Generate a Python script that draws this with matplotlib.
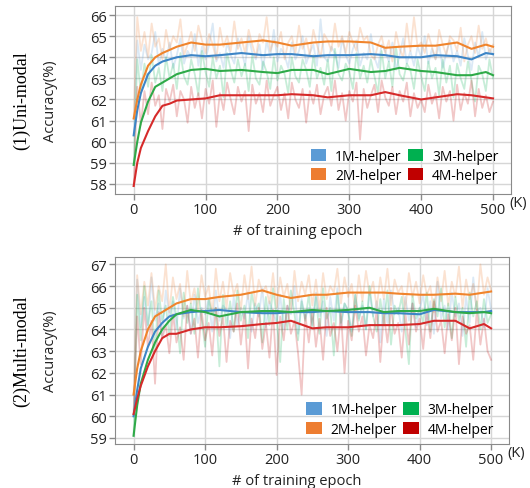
import numpy as np
import matplotlib
matplotlib.use('Agg')
import matplotlib.pyplot as plt
from matplotlib.patches import Patch

plt.rcParams['font.family'] = ['Open Sans', 'DejaVu Sans']

labels = ['1M-helper', '2M-helper', '3M-helper', '4M-helper']
colors = ['#5B9BD5', '#ED7D31', '#00B050', '#C00000']
line_colors = ['#3d85c6', '#f0842c', '#2eaa48', '#d62a2a']

# raw accuracy, every 5K epochs (0..500)
raw_x = np.arange(0, 501, 5)
uni_raw = [
    [60.3, 64.8, 63.4, 64.6, 63.9, 64.2, 65.2, 63.6, 64.4, 63.8,
     64.7, 63.5, 64.1, 64.9, 63.7, 64.3, 64.0, 65.1, 63.6, 64.5,
     63.9, 64.6, 65.6, 63.8, 64.2, 63.5, 64.7, 64.1, 63.7, 64.9,
     64.3, 63.6, 65.0, 64.2, 63.9, 64.6, 63.4, 64.8, 64.0, 65.3,
     63.8, 64.4, 64.1, 63.5, 64.7, 63.9, 64.3, 65.0, 63.7, 64.2,
     64.6, 63.6, 65.8, 64.0, 63.8, 64.5, 64.2, 63.5, 64.9, 64.1,
     63.7, 64.4, 64.8, 63.6, 64.2, 63.9, 65.1, 64.0, 63.5, 64.6,
     64.3, 63.8, 64.7, 63.4, 64.1, 64.9, 63.7, 64.3, 63.6, 64.5,
     64.0, 65.0, 63.7, 64.4, 63.9, 64.6, 63.5, 64.2, 64.8, 63.8,
     64.3, 63.6, 64.9, 64.1, 63.4, 64.7, 64.0, 65.2, 63.9, 64.4,
     64.1],
    [61.1, 65.9, 64.3, 65.2, 64.0, 65.6, 64.5, 64.9, 63.9, 65.3,
     64.4, 65.0, 64.7, 65.8, 64.1, 64.6, 65.2, 64.3, 65.5, 64.8,
     64.2, 65.1, 64.6, 63.9, 65.4, 64.5, 65.0, 64.3, 65.7, 64.4,
     64.9, 64.2, 65.3, 64.6, 64.0, 65.1, 64.7, 65.9, 64.3, 64.8,
     64.5, 65.2, 63.9, 64.7, 65.0, 64.2, 65.5, 64.4, 64.9, 64.1,
     65.3, 64.6, 64.0, 65.1, 64.8, 64.3, 65.6, 64.5, 65.0, 64.2,
     65.2, 64.7, 64.3, 65.4, 64.8, 65.0, 64.1, 63.9, 64.6, 65.0,
     64.2, 64.8, 63.8, 65.2, 64.4, 64.0, 65.6, 64.3, 65.9, 64.5,
     64.7, 64.2, 65.1, 64.5, 63.9, 65.3, 64.6, 64.1, 65.0, 64.8,
     64.3, 65.4, 63.8, 64.6, 65.0, 64.2, 65.5, 64.4, 64.9, 64.2,
     64.6],
    [58.9, 63.9, 62.3, 63.7, 62.6, 64.1, 62.8, 63.5, 62.4, 64.0,
     63.0, 63.7, 62.5, 64.2, 63.1, 62.7, 63.9, 63.2, 62.2, 64.3,
     63.3, 62.6, 64.0, 63.0, 63.6, 62.1, 64.2, 63.4, 62.8, 63.9,
     63.1, 63.7, 62.4, 64.1, 63.0, 62.7, 63.8, 63.3, 62.5, 64.0,
     62.9, 63.6, 63.2, 62.3, 64.0, 63.1, 62.8, 63.9, 63.4, 62.6,
     64.1, 63.0, 63.5, 62.7, 63.9, 62.4, 64.4, 63.2, 62.9, 63.7,
     63.3, 62.5, 64.2, 63.0, 63.6, 62.8, 63.9, 63.1, 62.3, 64.3,
     63.0, 63.8, 62.6, 64.5, 63.2, 62.9, 63.7, 63.4, 62.5, 63.9,
     63.1, 62.4, 63.8, 63.0, 63.5, 62.2, 63.9, 62.8, 63.6, 62.1,
     63.7, 63.0, 62.5, 63.8, 62.9, 61.9, 63.6, 63.2, 62.4, 63.9,
     63.0],
    [57.9, 62.6, 60.8, 62.4, 61.3, 62.8, 61.7, 62.2, 60.6, 62.5,
     61.9, 62.7, 61.2, 62.4, 62.0, 60.9, 62.6, 61.6, 62.3, 61.1,
     62.5, 61.8, 62.9, 60.7, 62.3, 61.5, 62.8, 62.0, 61.3, 62.6,
     61.9, 62.4, 60.5, 62.7, 61.8, 62.3, 61.4, 62.9, 61.7, 62.2,
     62.6, 61.5, 62.3, 61.1, 62.8, 62.0, 61.6, 62.5, 60.9, 62.4,
     61.8, 62.7, 61.3, 62.2, 62.6, 61.7, 62.9, 61.5, 62.3, 61.0,
     62.4, 61.9, 62.8, 60.1, 62.5, 61.6, 62.2, 62.7, 61.4, 62.9,
     62.1, 61.7, 62.6, 61.3, 62.4, 61.9, 62.8, 61.2, 62.3, 61.6,
     62.0, 61.4, 62.7, 61.8, 62.3, 61.1, 62.6, 61.9, 62.4, 61.0,
     62.7, 61.5, 62.3, 61.8, 62.9, 61.2, 62.5, 61.6, 62.2, 61.4,
     61.9],
]
multi_raw = [
    [60.0, 66.3, 64.1, 65.5, 63.9, 66.4, 64.4, 65.2, 63.7, 65.8,
     64.6, 65.3, 64.0, 65.9, 64.5, 65.1, 63.8, 65.6, 64.3, 65.0,
     64.7, 65.4, 63.9, 65.8, 64.4, 65.1, 64.9, 63.6, 65.5, 64.2,
     65.0, 64.5, 65.7, 63.9, 65.2, 64.6, 65.9, 64.1, 65.3, 64.8,
     64.3, 65.6, 64.0, 65.1, 64.7, 66.0, 63.8, 65.4, 64.5, 65.0,
     64.2, 65.7, 64.6, 65.3, 63.7, 65.5, 64.4, 65.9, 64.1, 65.2,
     64.8, 63.9, 65.6, 64.5, 65.1, 64.0, 65.7, 64.6, 65.3, 63.4,
     65.4, 64.3, 65.8, 64.7, 65.0, 63.9, 65.5, 64.4, 65.2, 64.1,
     64.9, 65.6, 64.2, 65.3, 63.8, 66.2, 64.5, 65.1, 64.0, 65.7,
     64.6, 65.2, 63.7, 65.5, 64.3, 66.4, 64.8, 65.0, 64.1, 65.9,
     64.9],
    [61.0, 66.5, 64.7, 66.2, 65.1, 66.6, 64.9, 66.0, 65.3, 67.0,
     64.8, 66.4, 65.4, 66.1, 64.6, 66.7, 65.2, 65.9, 64.9, 66.5,
     65.5, 66.0, 64.7, 66.8, 65.3, 66.2, 65.0, 66.6, 65.6, 66.1,
     64.9, 66.5, 65.4, 66.9, 65.1, 66.3, 65.7, 66.0, 65.2, 66.6,
     65.0, 66.4, 65.5, 66.1, 64.8, 66.7, 65.3, 66.2, 65.6, 66.5,
     65.1, 66.3, 64.9, 66.6, 65.4, 66.0, 65.7, 66.8, 65.2, 66.4,
     65.5, 66.1, 64.8, 66.5, 65.3, 66.7, 65.6, 66.2, 65.0, 66.4,
     65.4, 66.8, 65.1, 66.3, 65.7, 66.0, 64.9, 66.6, 65.5, 66.2,
     65.2, 66.5, 65.6, 66.0, 64.8, 66.4, 65.3, 66.7, 65.1, 66.2,
     65.5, 66.9, 65.0, 66.3, 65.4, 66.1, 64.9, 67.0, 65.6, 66.4,
     65.8],
    [59.1, 65.6, 63.5, 66.0, 64.2, 65.3, 63.0, 65.8, 64.4, 65.1,
     63.7, 65.5, 64.6, 62.9, 65.7, 64.3, 65.2, 63.8, 65.9, 64.5,
     63.2, 65.4, 64.7, 65.0, 62.3, 65.6, 64.1, 65.3, 63.9, 65.8,
     64.4, 65.1, 63.6, 65.7, 64.8, 65.2, 63.4, 65.5, 64.2, 65.9,
     64.6, 62.5, 65.4, 64.0, 65.8, 64.7, 63.5, 65.3, 64.4, 65.6,
     64.1, 65.5, 63.8, 65.9, 64.5, 65.0, 62.8, 65.7, 64.3, 65.2,
     64.9, 63.7, 65.6, 64.4, 65.3, 64.0, 66.0, 64.6, 63.9, 65.4,
     64.2, 65.8, 63.3, 65.1, 64.7, 65.5, 64.0, 62.4, 65.6, 64.5,
     65.0, 64.3, 65.7, 63.9, 65.4, 64.6, 65.9, 64.1, 65.2, 63.6,
     65.5, 64.4, 65.0, 63.2, 65.7, 64.6, 65.3, 64.0, 65.4, 64.3,
     64.7],
    [60.1, 64.6, 62.4, 65.0, 63.2, 64.4, 61.5, 64.8, 63.6, 64.2,
     62.9, 64.7, 63.4, 64.1, 62.6, 65.1, 63.8, 64.5, 62.7, 64.9,
     63.5, 64.3, 62.8, 65.0, 63.7, 64.6, 62.5, 64.4, 63.9, 65.2,
     63.3, 64.8, 62.2, 64.5, 63.6, 65.0, 63.1, 64.3, 62.7, 64.9,
     61.9, 64.6, 63.5, 65.1, 63.8, 64.4, 62.9, 61.0, 64.7, 63.4,
     64.9, 63.2, 64.5, 62.6, 65.0, 63.7, 64.3, 63.0, 64.8, 62.0,
     64.4, 63.5, 65.1, 63.9, 64.6, 62.8, 64.2, 63.6, 64.9, 62.5,
     64.7, 63.4, 65.0, 63.8, 64.3, 62.7, 64.8, 63.3, 65.2, 63.9,
     64.5, 63.1, 64.9, 63.6, 65.3, 63.9, 64.4, 62.9, 64.7, 63.5,
     65.0, 62.4, 64.6, 63.8, 64.2, 62.6, 64.9, 63.3, 64.5, 63.0,
     62.6],
]

# smoothed curves
sm_x = [0, 5, 10, 20, 30, 40, 50, 60, 80, 100, 120, 150, 180, 200, 220,
        250, 270, 300, 330, 350, 370, 400, 420, 450, 470, 490, 500]
uni_sm = [
    [60.3, 61.5, 62.3, 63.2, 63.6, 63.8, 63.9, 64.0, 64.1, 64.05, 64.1, 64.2, 64.1, 64.15,
     64.15, 64.05, 64.1, 64.1, 64.15, 64.1, 64.0, 64.0, 64.1, 64.05, 63.9, 64.2, 64.15],
    [61.1, 62.0, 62.7, 63.6, 64.0, 64.2, 64.35, 64.5, 64.7, 64.6, 64.6, 64.7, 64.8, 64.7,
     64.55, 64.7, 64.75, 64.75, 64.7, 64.45, 64.5, 64.55, 64.55, 64.7, 64.4, 64.6, 64.5],
    [58.9, 60.0, 60.9, 61.9, 62.6, 62.8, 63.0, 63.2, 63.4, 63.45, 63.35, 63.4, 63.3, 63.25,
     63.4, 63.4, 63.2, 63.45, 63.3, 63.35, 63.5, 63.35, 63.3, 63.15, 63.15, 63.3, 63.15],
    [57.9, 59.0, 59.7, 60.5, 61.2, 61.7, 61.8, 61.95, 62.0, 62.05, 62.2, 62.2, 62.2, 62.2,
     62.25, 62.2, 62.1, 62.2, 62.2, 62.35, 62.2, 62.0, 62.1, 62.25, 62.2, 62.1, 62.05],
]
multi_sm = [
    [60.0, 61.2, 62.2, 63.2, 63.9, 64.3, 64.6, 64.7, 64.8, 64.85, 64.9, 64.8, 64.75, 64.75,
     64.8, 64.8, 64.85, 64.8, 64.8, 64.75, 64.75, 64.7, 64.9, 64.8, 64.8, 64.8, 64.85],
    [61.0, 62.2, 63.0, 64.0, 64.6, 64.8, 65.0, 65.2, 65.4, 65.4, 65.5, 65.6, 65.8, 65.6,
     65.45, 65.6, 65.6, 65.7, 65.7, 65.7, 65.65, 65.6, 65.6, 65.65, 65.6, 65.7, 65.75],
    [59.1, 60.5, 61.5, 62.6, 63.4, 64.0, 64.4, 64.7, 64.9, 64.8, 64.6, 64.8, 64.85, 64.85,
     64.8, 64.9, 64.85, 64.9, 65.0, 64.8, 64.85, 64.85, 64.95, 64.8, 64.75, 64.8, 64.75],
    [60.1, 60.8, 61.4, 62.3, 63.0, 63.6, 63.8, 63.8, 64.0, 64.1, 64.1, 64.15, 64.25, 64.3,
     64.4, 64.05, 64.1, 64.1, 64.2, 64.2, 64.2, 64.25, 64.4, 64.4, 64.05, 64.25, 64.05],
]

panels = [
    ('(1)Uni-modal', uni_raw, uni_sm, [58, 59, 60, 61, 62, 63, 64, 65, 66], (57.52, 66.43)),
    ('(2)Multi-modal', multi_raw, multi_sm, [59, 60, 61, 62, 63, 64, 65, 66, 67], (58.72, 67.34)),
]

W, H = 530, 489
fig = plt.figure(figsize=(W / 100, H / 100), dpi=100)
# axes boxes in pixels: left, top, right, bottom
boxes = [(115, 7, 511, 195), (115, 258, 509, 445)]
leg_anchor = [(0.968, 0.06), (0.962, 0.04)]

for (title, raw, sm, yt, ylim), (l, t, r, b), anc in zip(panels, boxes, leg_anchor):
    ax = fig.add_axes([l / W, 1 - b / H, (r - l) / W, (b - t) / H])
    for i in range(4):
        ax.plot(raw_x, raw[i], color=colors[i], alpha=0.22, lw=1.3)
    for i in range(4):
        ax.plot(sm_x, sm[i], color=line_colors[i], lw=1.5)
    ax.set_xlim(-26, 525)
    ax.set_ylim(*ylim)
    ax.set_xticks([0, 100, 200, 300, 400, 500])
    ax.set_yticks(yt)
    ax.grid(True, color='#d6d6d6', lw=1)
    ax.set_axisbelow(True)
    ax.tick_params(length=4, width=1, color='#8a8a8a', labelsize=10.5,
                   labelcolor='#222222', pad=2)
    for s in ax.spines.values():
        s.set_color('#8a8a8a')
    ax.set_xlabel('# of training epoch', fontsize=10.5, color='#222222')
    ax.xaxis.set_label_coords(0.462, -0.155)
    ax.text(0.995, -0.045, '(K)', transform=ax.transAxes, fontsize=10.5,
            color='#222222', va='center', ha='left')
    yc = 1 - (t + b) / 2 / H
    fig.text(50 / W, yc, 'Accuracy(%)', rotation=90, fontsize=10.5,
             color='#222222', va='center', ha='center')
    fig.text(22 / W, yc, title, rotation=90, family='Liberation Serif',
             fontsize=13, va='center', ha='center')
    handles = [Patch(facecolor=c, edgecolor='none') for c in colors]
    ax.legend(handles, labels, ncol=2, loc='lower right', bbox_to_anchor=anc,
              frameon=False, fontsize=10, handlelength=1.1, handleheight=1.0,
              handletextpad=0.65, columnspacing=0.45, labelspacing=0.3,
              borderpad=0, borderaxespad=0)

fig.savefig('out.png', dpi=100)
